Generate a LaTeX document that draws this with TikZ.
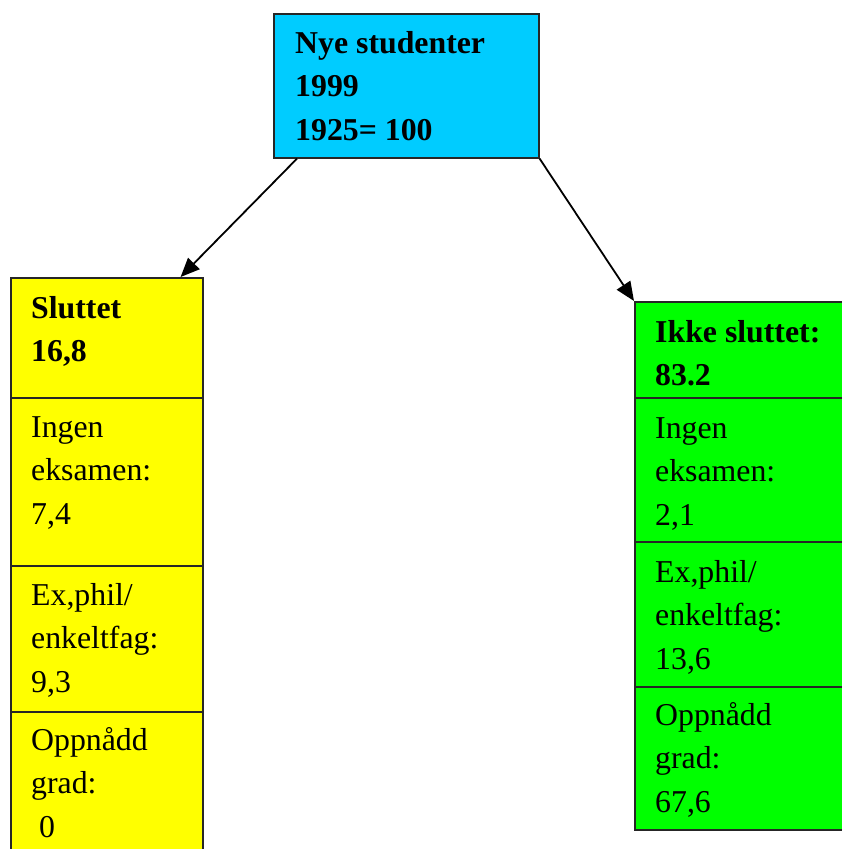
\documentclass[tikz,border=0pt]{standalone}
\usepackage{fontspec}
\setmainfont{Liberation Serif}
\usetikzlibrary{arrows.meta,calc}
\definecolor{headcyan}{RGB}{0,204,255}
\definecolor{leftyellow}{RGB}{255,255,0}
\definecolor{rightgreen}{RGB}{0,255,0}
\newcommand{\celltext}[1]{\parbox[t]{260pt}{\raggedright\fontsize{31.8}{43.8}\selectfont #1}}
\begin{document}
\begin{tikzpicture}[x=1pt,y=-1pt,
  cell/.style={draw=black!85,line width=1.6pt,rectangle,inner sep=0pt,anchor=north west},
  label/.style={anchor=base west,inner sep=0pt,align=left},
  link/.style={line width=1.8pt,-{Triangle[length=19pt,width=16pt]}}]
\clip (0,0) rectangle (842,849);
\fill[white] (0,0) rectangle (842,849);

% top box
\node[cell,fill=headcyan,minimum width=265pt,minimum height=144pt] (top) at (273,13) {};
\node[label] (toptxt) at (295,53) {\celltext{\bfseries Nye studenter\\1999\\1925= 100}};

% left column
\node[cell,fill=leftyellow,minimum width=192pt,minimum height=120pt] (lhead) at (10,277) {};
\node[cell,fill=leftyellow,minimum width=192pt,minimum height=168pt] (lnone) at (10,397) {};
\node[cell,fill=leftyellow,minimum width=192pt,minimum height=146pt] (lphil) at (10,565) {};
\node[cell,fill=leftyellow,minimum width=192pt,minimum height=160pt] (ldeg) at (10,711) {};
\node[label] (lheadtxt) at (31,318) {\celltext{\bfseries Sluttet\\16,8}};
\node[label] (lnonetxt) at (31,437) {\celltext{Ingen\\eksamen:\\7,4}};
\node[label] (lphiltxt) at (31,605) {\celltext{Ex,phil/\\enkeltfag:\\9,3}};
\node[label] (ldegtxt) at (31,750) {\celltext{Oppnådd\\grad:\\\hspace*{8pt}0}};

% right column
\node[cell,fill=rightgreen,minimum width=236pt,minimum height=96pt] (rhead) at (634,301) {};
\node[cell,fill=rightgreen,minimum width=236pt,minimum height=144pt] (rnone) at (634,397) {};
\node[cell,fill=rightgreen,minimum width=236pt,minimum height=145pt] (rphil) at (634,541) {};
\node[cell,fill=rightgreen,minimum width=236pt,minimum height=143pt] (rdeg) at (634,686) {};
\node[label] (rheadtxt) at (655,342) {\celltext{\bfseries Ikke sluttet:\\83.2}};
\node[label] (rnonetxt) at (655,438) {\celltext{Ingen\\eksamen:\\2,1}};
\node[label] (rphiltxt) at (655,582) {\celltext{Ex,phil/\\enkeltfag:\\13,6}};
\node[label] (rdegtxt) at (655,725) {\celltext{Oppnådd\\grad:\\67,6}};

% connectors
\draw[link] ($(top.south west)+(24,0)$) -- ($(lhead.north east)+(-23,0)$);
\draw[link] (top.south east) -- (rhead.north west);
\end{tikzpicture}
\end{document}
